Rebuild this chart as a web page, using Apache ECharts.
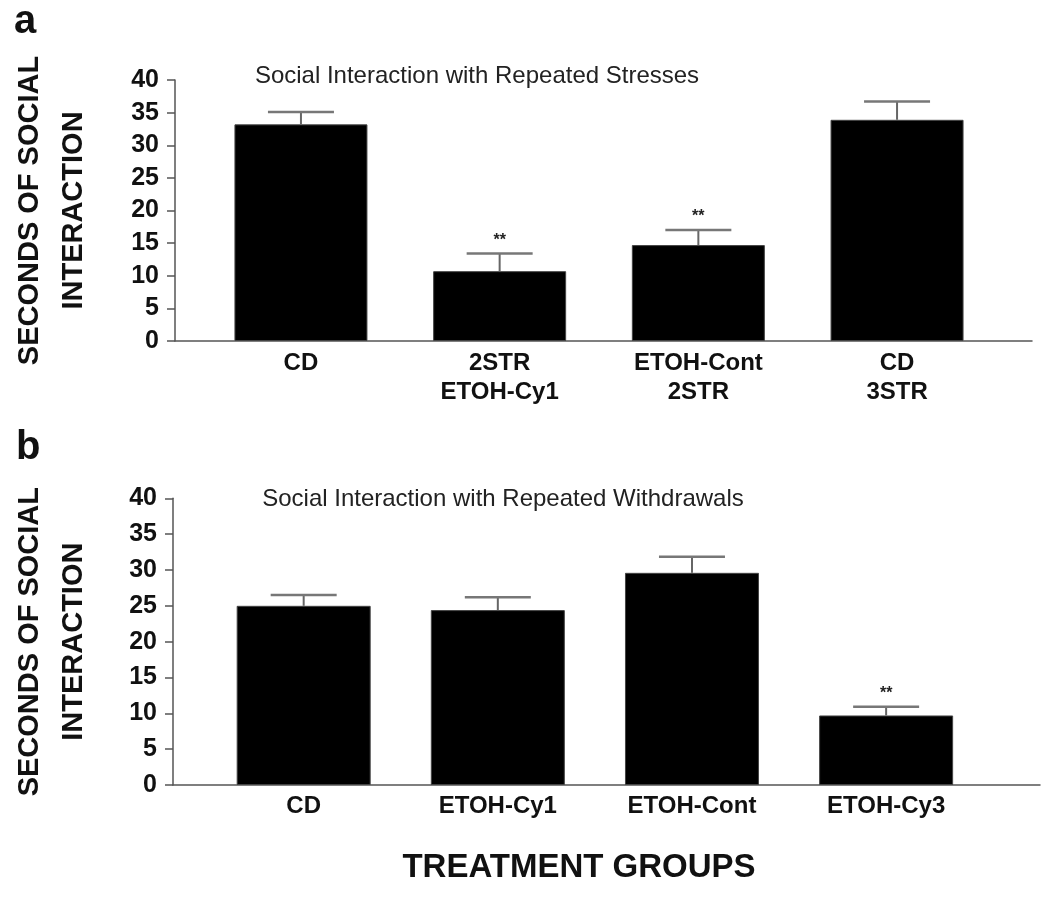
<!DOCTYPE html>
<html>
<head>
<meta charset="utf-8">
<script src="https://cdn.jsdelivr.net/npm/echarts@6/dist/echarts.min.js"></script>
<style>
html,body{margin:0;padding:0;background:#fff;}
#c{width:1050px;height:898px;}
</style>
</head>
<body>
<div id="c"></div>
<script>
// ---- data ----
var catsA = ['CD', '2STR\nETOH-Cy1', 'ETOH-Cont\n2STR', 'CD\n3STR'];
var meanA = [33.2, 10.7, 14.7, 33.9];
var semA  = [1.9, 2.7, 2.3, 2.8];
var sigA  = ['', '**', '**', ''];

var catsB = ['CD', 'ETOH-Cy1', 'ETOH-Cont', 'ETOH-Cy3'];
var meanB = [25.0, 24.4, 29.6, 9.7];
var semB  = [1.5, 1.8, 2.25, 1.2];
var sigB  = ['', '', '', '**'];

var yTicks = [0, 5, 10, 15, 20, 25, 30, 35, 40];

var titleA = 'Social Interaction with Repeated Stresses';
var titleB = 'Social Interaction with Repeated Withdrawals';
var yName = 'SECONDS OF SOCIAL\nINTERACTION';
var xName = 'TREATMENT GROUPS';

// ---- helpers ----
var FONT = '"Liberation Sans", Arial, sans-serif';
var AXIS_COLOR = '#555';

function errData(means, sems, sigs) {
  return means.map(function (m, i) { return [i, m, m + sems[i], sigs[i]]; });
}

function renderErr(params, api) {
  var i = api.value(0);
  var base = api.coord([i, api.value(1)]);
  var top = api.coord([i, api.value(2)]);
  var half = 33;
  var children = [
    { type: 'line', shape: { x1: base[0], y1: base[1], x2: top[0], y2: top[1] },
      style: { stroke: '#666', lineWidth: 2 } },
    { type: 'line', shape: { x1: top[0] - half, y1: top[1], x2: top[0] + half, y2: top[1] },
      style: { stroke: '#777', lineWidth: 2.5 } }
  ];
  var sig = api.value(3);
  if (sig) {
    children.push({ type: 'text', style: { text: sig, x: top[0], y: top[1] - 5,
      align: 'center', verticalAlign: 'bottom', font: 'bold 16px ' + FONT, fill: '#222' } });
  }
  return { type: 'group', children: children };
}

function frameX(gi) {
  return { gridIndex: gi, type: 'value', min: 0, max: 1,
    axisLine: { show: true, lineStyle: { color: AXIS_COLOR, width: 1.5 } },
    axisTick: { show: false }, axisLabel: { show: false }, splitLine: { show: false } };
}
function frameY(gi, gap) {
  return { gridIndex: gi, type: 'value', min: 0, max: 40, interval: 5,
    axisLine: { show: true, lineStyle: { color: AXIS_COLOR, width: 1.5 } },
    axisTick: { show: true, inside: false, length: 8, lineStyle: { color: AXIS_COLOR, width: 1.5 } },
    axisLabel: { margin: 16, fontSize: 25, fontWeight: 'bold', color: '#111', fontFamily: FONT },
    splitLine: { show: false },
    name: yName, nameLocation: 'middle', nameRotate: 90, nameGap: gap,
    nameTextStyle: { fontSize: 29, fontWeight: 'bold', color: '#111', fontFamily: FONT, lineHeight: 44 } };
}
function dataX(gi, cats, margin) {
  return { gridIndex: gi, type: 'category', data: cats,
    axisLine: { show: false }, axisTick: { show: false },
    axisLabel: { margin: margin, fontSize: 24, fontWeight: 'bold', color: '#111', fontFamily: FONT,
      lineHeight: 29, interval: 0 } };
}
function dataY(gi) {
  return { gridIndex: gi, type: 'value', min: 0, max: 40, show: false };
}

var option = {
  backgroundColor: '#fff',
  animation: false,
  title: [
    { text: titleA, left: 472, top: 59, textAlign: 'center',
      textStyle: { fontSize: 24, fontWeight: 'normal', color: '#222', fontFamily: FONT } },
    { text: titleB, left: 498, top: 482, textAlign: 'center',
      textStyle: { fontSize: 24, fontWeight: 'normal', color: '#222', fontFamily: FONT } }
  ],
  grid: [
    { left: 167, top: 80, width: 865, height: 261 },
    { left: 201.6, top: 80, width: 794.8, height: 261 },
    { left: 164, top: 498.3, width: 876, height: 286.7 },
    { left: 206.6, top: 498.3, width: 776.6, height: 286.7 }
  ],
  xAxis: [frameX(0), dataX(1, catsA, 8), frameX(2), dataX(3, catsB, 7)],
  yAxis: [frameY(0, 79), dataY(1), frameY(2, 77), dataY(3)],
  graphic: [
    { type: 'text', style: { x: 14, y: 2, text: 'a', font: 'bold 40px ' + FONT, fill: '#111', verticalAlign: 'top' } },
    { type: 'text', style: { x: 16, y: 428, text: 'b', font: 'bold 40px ' + FONT, fill: '#111', verticalAlign: 'top' } },
    { type: 'text', style: { x: 579, y: 868, text: xName, font: 'bold 33px ' + FONT, fill: '#111',
      align: 'center', verticalAlign: 'middle' } }
  ],
  series: [
    { type: 'bar', xAxisIndex: 1, yAxisIndex: 1, data: meanA, barWidth: 133,
      itemStyle: { color: '#000', borderColor: '#444', borderWidth: 1 }, silent: true },
    { type: 'custom', xAxisIndex: 1, yAxisIndex: 1, data: errData(meanA, semA, sigA),
      renderItem: renderErr, silent: true, z: 5 },
    { type: 'bar', xAxisIndex: 3, yAxisIndex: 3, data: meanB, barWidth: 134,
      itemStyle: { color: '#000', borderColor: '#444', borderWidth: 1 }, silent: true },
    { type: 'custom', xAxisIndex: 3, yAxisIndex: 3, data: errData(meanB, semB, sigB),
      renderItem: renderErr, silent: true, z: 5 }
  ]
};

var chart = echarts.init(document.getElementById('c'), null, { renderer: 'canvas' });
chart.setOption(option);
</script>
</body>
</html>
